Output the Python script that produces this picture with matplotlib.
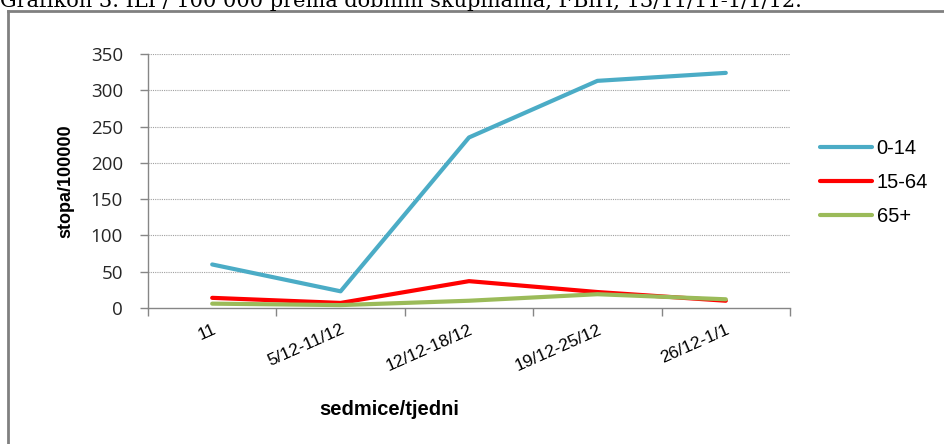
import matplotlib.pyplot as plt
from matplotlib.lines import Line2D

# ILI rate per 100000 by age group
weeks = ['11', '5/12-11/12', '12/12-18/12', '19/12-25/12', '26/12-1/1']
age_0_14 = [60, 23, 235, 313, 324]
age_15_64 = [14, 7, 37, 22, 10]
age_65 = [6, 4, 10, 19, 12]
y_ticks = [0, 50, 100, 150, 200, 250, 300, 350]

fig = plt.figure(figsize=(9.44, 4.44), dpi=100)
ax = fig.add_axes([148/944, 136/444, 642/944, 254/444])

x = range(len(weeks))
ax.plot(x, age_0_14, color='#4BACC6', lw=3, label='0-14', solid_capstyle='round')
ax.plot(x, age_15_64, color='#FF0000', lw=3, label='15-64', solid_capstyle='round')
ax.plot(x, age_65, color='#9BBB59', lw=3, label='65+', solid_capstyle='round')

ax.set_xlim(-0.5, len(weeks) - 0.5)
ax.set_ylim(0, 350)
ax.set_yticks(y_ticks)
ax.set_yticklabels([str(v) for v in y_ticks], fontsize=13.5, family='Open Sans', color='#262626')

# category labels at centres, tick marks at boundaries (excel style)
ax.set_xticks(list(x))
ax.set_xticklabels(weeks, rotation=24, ha='right', rotation_mode='anchor',
                   fontsize=12.5, family='Liberation Sans')
ax.set_xticks([i - 0.5 for i in range(len(weeks) + 1)], minor=True)
ax.tick_params(axis='x', which='major', length=0, pad=10)
ax.tick_params(axis='x', which='minor', length=6, color='#868686', width=1)
ax.tick_params(axis='y', length=6, color='#868686', width=1, pad=12)

for v in y_ticks[1:]:
    ax.axhline(v, color='#A0A0A0', lw=0.8, ls=(0, (1, 1)), zorder=0)

for side in ['top', 'right']:
    ax.spines[side].set_visible(False)
for side in ['left', 'bottom']:
    ax.spines[side].set_color('#868686')
    ax.spines[side].set_linewidth(1)

ax.set_ylabel('stopa/100000', fontsize=13, fontweight='bold',
              family=['Liberation Sans Narrow', 'Liberation Sans'], labelpad=12)
fig.text(389/944, 1 - 409/444, 'sedmice/tjedni', fontsize=14.5, fontweight='bold',
         family='Liberation Sans', ha='center', va='center')

handles = [Line2D([], [], color=c, lw=3, solid_capstyle='round')
           for c in ['#4BACC6', '#FF0000', '#9BBB59']]
fig.legend(handles, ['0-14', '15-64', '65+'], loc='upper left',
           bbox_to_anchor=(802/944, 1 - 121/444), frameon=False,
           prop={'family': 'Liberation Sans', 'size': 14.5},
           handlelength=2.6, handletextpad=0.2, labelspacing=0.75)

# outer frame (partly cut off) and caption
fig.add_artist(Line2D([8/944, 1], [1 - 11/444, 1 - 11/444], color='#808080', lw=2,
                      transform=fig.transFigure))
fig.add_artist(Line2D([8/944, 8/944], [0, 1 - 11/444], color='#808080', lw=2,
                      transform=fig.transFigure))
fig.text(0, 1 - 7/444,
         'Grafikon 3. ILI / 100 000 prema dobnim skupinama, FBiH, 13/11/11-1/1/12.',
         fontsize=15, family='DejaVu Serif', ha='left', va='baseline')

fig.savefig('out.png', dpi=100)
